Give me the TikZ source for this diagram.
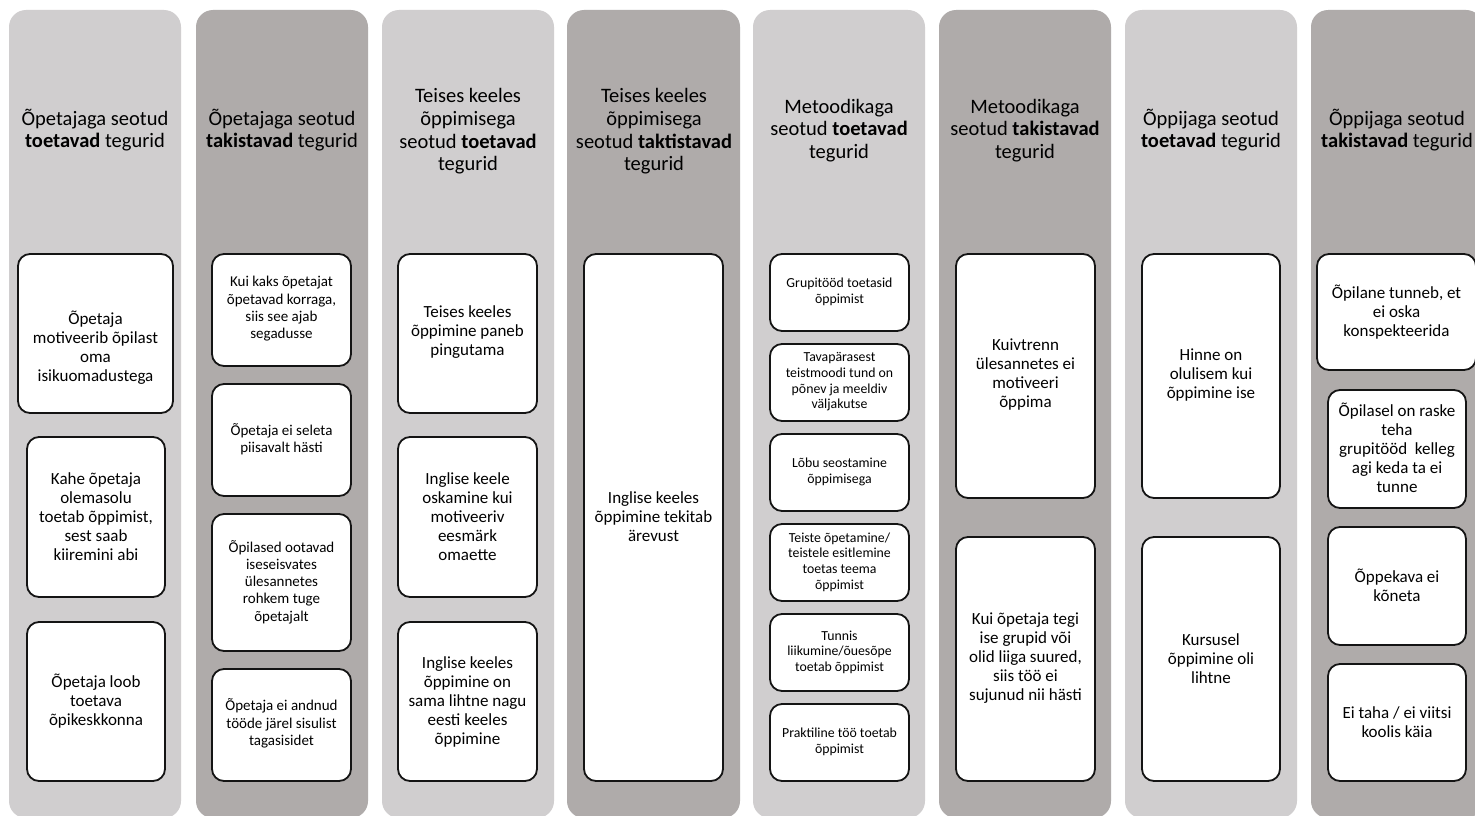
\documentclass[tikz,border=0pt]{standalone}
\usepackage{fontspec}
\setmainfont{Carlito}
\definecolor{panelL}{RGB}{208,206,207}
\definecolor{panelD}{RGB}{175,171,170}
\definecolor{boxline}{RGB}{20,20,20}
\newcommand{\fbig}{\fontsize{17}{19}\selectfont}
\newcommand{\fmid}{\fontsize{15}{17.3}\selectfont}
\newcommand{\fsml}{\fontsize{13.8}{15.6}\selectfont}
\tikzset{
  boxst/.style={draw=boxline, line width=1.8pt, rounded corners=12pt, fill=white, inner sep=0pt, outer sep=0pt},
  txt/.style={align=center, inner sep=0pt, text=black},
  hdr/.style={align=center, inner sep=0pt, text=black, font=\fontsize{20.5}{22.7}\selectfont},
  lightpanel/.style={fill=panelL, rounded corners=17pt},
  darkpanel/.style={fill=panelD, rounded corners=17pt}
}
\newcommand{\factbox}[8]{%
  \node[boxst, minimum width={(#4-#2)*1pt}, minimum height={(#5-#3)*1pt}] (#1) at ({(#2+#4)/2},{(#3+#5)/2}) {};
  \node[txt, font=#7] (#1t) at ({(#2+#4)/2},#6) {#8};
}
\begin{document}
\begin{tikzpicture}[x=1pt,y=-1pt]
\useasboundingbox (0,0) rectangle (1475,816);
\clip (0,0) rectangle (1475,816);
\fill[white] (0,0) rectangle (1475,816);
% panels
\fill[lightpanel] (9,10) rectangle (181,818);
\fill[darkpanel] (196,10) rectangle (368,818);
\fill[lightpanel] (382,10) rectangle (554,818);
\fill[darkpanel] (567,10) rectangle (740,818);
\fill[lightpanel] (753,10) rectangle (925,818);
\fill[darkpanel] (939,10) rectangle (1111,818);
\fill[lightpanel] (1125,10) rectangle (1297,818);
\fill[darkpanel] (1311,10) rectangle (1483,818);
% headers
\node[hdr] (h1) at (95,130) {Õpetajaga seotud\\\textbf{toetavad} tegurid};
\node[hdr] (h2) at (282,130) {Õpetajaga seotud\\\textbf{takistavad} tegurid};
\node[hdr] (h3) at (468,131.5) {Teises keeles\\õppimisega\\seotud \textbf{toetavad}\\tegurid};
\node[hdr] (h4) at (654,131.5) {Teises keeles\\õppimisega\\seotud \textbf{taktistavad}\\tegurid};
\node[hdr] (h5) at (839,130.5) {Metoodikaga\\seotud \textbf{toetavad}\\tegurid};
\node[hdr] (h6) at (1025,130.5) {Metoodikaga\\seotud \textbf{takistavad}\\tegurid};
\node[hdr] (h7) at (1211,130) {Õppijaga seotud\\\textbf{toetavad} tegurid};
\node[hdr] (h8) at (1397,130) {Õppijaga seotud\\\textbf{takistavad} tegurid};
% column 1
\factbox{c1b1}{18}{254}{173}{413}{347.5}{\fbig}{Õpetaja\\motiveerib õpilast\\oma\\isikuomadustega}
\factbox{c1b2}{27}{437}{165}{597}{517}{\fbig}{Kahe õpetaja\\olemasolu\\toetab õppimist,\\sest saab\\kiiremini abi}
\factbox{c1b3}{27}{622}{165}{781}{701}{\fbig}{Õpetaja loob\\toetava\\õpikeskkonna}
% column 2
\factbox{c2b1}{212}{254}{351}{366}{309}{\fmid}{Kui kaks õpetajat\\õpetavad korraga,\\siis see ajab\\segadusse}
\factbox{c2b2}{212}{384}{351}{496}{439.5}{\fmid}{Õpetaja ei seleta\\piisavalt hästi}
\factbox{c2b3}{212}{514}{351}{651}{582}{\fmid}{Õpilased ootavad\\iseseisvates\\ülesannetes\\rohkem tuge\\õpetajalt}
\factbox{c2b4}{212}{669}{351}{781}{723.5}{\fmid}{Õpetaja ei andnud\\tööde järel sisulist\\tagasisidet}
% column 3
\factbox{c3b1}{398}{254}{537}{413}{332}{\fbig}{Teises keeles\\õppimine paneb\\pingutama}
\factbox{c3b2}{398}{437}{537}{597}{517}{\fbig}{Inglise keele\\oskamine kui\\motiveeriv\\eesmärk\\omaette}
\factbox{c3b3}{398}{622}{537}{781}{701.5}{\fbig}{Inglise keeles\\õppimine on\\sama lihtne nagu\\eesti keeles\\õppimine}
% column 4
\factbox{c4b1}{584}{254}{723}{781}{517}{\fbig}{Inglise keeles\\õppimine tekitab\\ärevust}
% column 5
\factbox{c5b1}{770}{254}{909}{331}{292}{\fsml}{Grupitööd toetasid\\õppimist}
\factbox{c5b2}{770}{344}{909}{421}{382}{\fsml}{Tavapärasest\\teistmoodi tund on\\põnev ja meeldiv\\väljakutse}
\factbox{c5b3}{770}{434}{909}{511}{472}{\fsml}{Lõbu seostamine\\õppimisega}
\factbox{c5b4}{770}{524}{909}{601}{562}{\fsml}{Teiste õpetamine/\\teistele esitlemine\\toetas teema\\õppimist}
\factbox{c5b5}{770}{614}{909}{691}{652}{\fsml}{Tunnis\\liikumine/õuesõpe\\toetab õppimist}
\factbox{c5b6}{770}{704}{909}{781}{742}{\fsml}{Praktiline töö toetab\\õppimist}
% column 6
\factbox{c6b1}{956}{254}{1095}{498}{374.5}{\fbig}{Kuivtrenn\\ülesannetes ei\\motiveeri\\õppima}
\factbox{c6b2}{956}{537}{1095}{781}{658}{\fbig}{Kui õpetaja tegi\\ise grupid või\\olid liiga suured,\\siis töö ei\\sujunud nii hästi}
% column 7
\factbox{c7b1}{1142}{254}{1280}{498}{375}{\fbig}{Hinne on\\olulisem kui\\õppimine ise}
\factbox{c7b2}{1142}{537}{1280}{781}{659}{\fbig}{Kursusel\\õppimine oli\\lihtne}
% column 8
\factbox{c8b1}{1317}{254}{1476}{370}{312}{\fbig}{Õpilane tunneb, et\\ei oska\\konspekteerida}
\factbox{c8b2}{1328}{390}{1466}{508}{448}{\fbig}{Õpilasel on raske\\teha\\grupitööd\ \ kelleg\\agi keda ta ei\\tunne}
\factbox{c8b3}{1328}{527}{1466}{645}{585.5}{\fbig}{Õppekava ei\\kõneta}
\factbox{c8b4}{1328}{664}{1466}{781}{722.5}{\fbig}{Ei taha / ei viitsi\\koolis käia}
\end{tikzpicture}
\end{document}
